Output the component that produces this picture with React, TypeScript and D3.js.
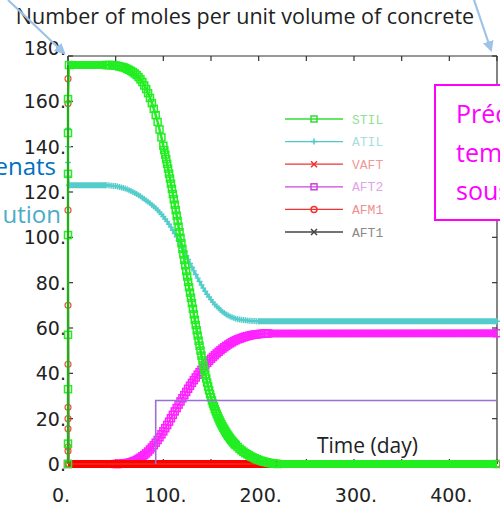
import React from "react";
import * as d3 from "d3";

// ---------- data ----------
const xTickValues = [0, 50, 100, 150, 200, 250, 300, 350, 400, 450];
const xLabelValues = [0, 100, 200, 300, 400];
const yTickValues = [0, 20, 40, 60, 80, 100, 120, 140, 160, 180];

const stil: [number, number][] = [
  [0, 0], [0, 9], [0, 33], [0, 57], [0, 101], [0, 128], [0, 146], [0, 161], [1, 176],
  [40, 176], [42, 176], [44, 176], [46, 176], [48, 175.9], [50, 175.8], [52, 175.6], [54, 175.4],
  [56, 175.2], [58, 175], [60, 174.7], [62, 174.3], [64, 173.9], [66, 173.4], [68, 172.9], [70, 172.3],
  [72, 171.6], [74, 170.7], [76, 169.7], [78, 168.5], [80, 167], [82, 165.4], [84, 163.6], [86, 161.5],
  [88, 159.2], [90, 156.7], [92, 153.9], [94, 150.9], [96, 147.6], [98, 144.1], [100, 140.4],
  [101, 138.5], [102, 136.5], [103, 134.5], [104, 132.4], [105, 130.3], [106, 128.1], [107, 125.9],
  [108, 123.7], [109, 121.4], [110, 119.1], [111, 116.8], [112, 114.4], [113, 112], [114, 109.6],
  [115, 107.2], [116, 104.7], [117, 102.3], [118, 99.8], [119, 97.4], [120, 94.9], [121, 92.5],
  [122, 90], [123, 87.6], [124, 85.1], [125, 82.7], [126, 80.3], [127, 78], [128, 75.6], [129, 73.3],
  [130, 71], [131, 68.5], [132, 66], [133, 63.6], [134, 61.3], [135, 59], [136, 56.7], [137, 54.4],
  [138, 52.2], [139, 50], [140, 47.8], [141, 45.7], [142, 43.6], [143, 41.6], [144, 39.6], [145, 37.7],
  [146, 35.9], [147, 34.2], [148, 32.5], [149, 30.9], [150, 29.4], [151, 28], [152, 26.7], [153, 25.5],
  [154, 24.3], [155, 23.2], [156, 22.1], [157, 21.1], [158, 20.1], [159, 19.2], [160, 18.3], [161, 17.5],
  [162, 16.7], [163, 15.9], [164, 15.2], [165, 14.5], [166, 13.8], [167, 13.1], [168, 12.5], [169, 11.9],
  [170, 11.3], [171, 10.7], [172, 10.2], [173, 9.7], [174, 9.2], [175, 8.7], [176, 8.3], [178, 7.5],
  [180, 6.7], [182, 6], [184, 5.4], [186, 4.8], [188, 4.3], [190, 3.8], [192, 3.3], [194, 2.9],
  [196, 2.5], [198, 2.1], [200, 1.8], [202, 1.5], [204, 1.2], [206, 1], [208, 0.8], [210, 0.6],
  [212, 0.4], [214, 0.3], [216, 0.2], [218, 0.1], [220, 0], [450, 0],
];

const atil: [number, number][] = [
  [0, 148], [0, 140], [0, 133], [0, 127], [1, 123],
  [40, 123], [42, 123], [44, 122.9], [46, 122.8], [48, 122.7], [50, 122.6], [52, 122.4], [54, 122.2],
  [56, 122], [58, 121.8], [60, 121.5], [62, 121.2], [64, 120.8], [66, 120.4], [68, 120], [70, 119.6],
  [72, 119.1], [74, 118.6], [76, 118.1], [78, 117.5], [80, 116.9], [82, 116.3], [84, 115.7], [86, 115],
  [88, 114.3], [90, 113.6], [92, 112.8], [94, 112], [96, 111.1], [98, 110.2], [100, 109.2], [102, 108.1],
  [104, 107], [106, 105.8], [108, 104.5], [110, 103.1], [112, 101.7], [114, 100.2], [116, 98.6],
  [118, 97], [120, 95.3], [122, 93.6], [124, 91.9], [126, 90.2], [128, 88.5], [130, 86.8], [132, 85.2],
  [134, 83.6], [136, 82], [138, 80.5], [140, 79], [142, 77.6], [144, 76.2], [146, 74.9], [148, 73.7],
  [150, 72.5], [152, 71.4], [154, 70.4], [156, 69.5], [158, 68.7], [160, 67.9], [162, 67.2], [164, 66.6],
  [166, 66], [168, 65.5], [170, 65.1], [172, 64.7], [174, 64.4], [176, 64.1], [178, 63.9], [180, 63.7],
  [182, 63.6], [184, 63.5], [186, 63.4], [188, 63.3], [190, 63.2], [192, 63.2], [194, 63.1], [196, 63.1],
  [198, 63], [200, 63], [450, 63],
];

const aft2: [number, number][] = [
  [0, 0], [50, 0], [52, 0], [54, 0.1], [56, 0.1], [58, 0.2], [60, 0.3], [62, 0.4], [64, 0.6], [66, 0.8],
  [68, 1.1], [70, 1.4], [72, 1.8], [74, 2.3], [76, 2.8], [78, 3.4], [80, 4], [82, 4.7], [84, 5.5],
  [86, 6.4], [88, 7.3], [90, 8.3], [92, 9.4], [94, 10.6], [96, 11.8], [98, 13.1], [100, 14.4],
  [102, 15.8], [104, 17.2], [106, 18.7], [108, 20.2], [110, 21.7], [112, 23.2], [114, 24.7], [116, 26.2],
  [118, 27.6], [120, 29], [122, 30.4], [124, 31.8], [126, 33.2], [128, 34.5], [130, 35.8], [132, 37],
  [134, 38.2], [136, 39.4], [138, 40.5], [140, 41.6], [142, 42.6], [144, 43.6], [146, 44.6], [148, 45.5],
  [150, 46.4], [152, 47.2], [154, 48], [156, 48.8], [158, 49.5], [160, 50.2], [162, 50.9], [164, 51.5],
  [166, 52.1], [168, 52.7], [170, 53.2], [172, 53.7], [174, 54.2], [176, 54.6], [178, 55], [180, 55.3],
  [182, 55.6], [184, 55.9], [186, 56.2], [188, 56.4], [190, 56.6], [192, 56.8], [194, 57], [196, 57.1],
  [198, 57.2], [200, 57.3], [202, 57.4], [204, 57.5], [206, 57.5], [208, 57.6], [210, 57.6], [450, 57.7],
];

const vaft: [number, number][] = [[0, 0], [450, 0]];
const afm1: [number, number][] = [
  [0, 0], [0, 5.7], [0, 7.5], [0, 15.5], [0, 20], [0, 25], [0, 44], [0, 70], [0, 112], [0, 159], [0, 170],
  [1, 0], [450, 0],
];
const aft1: [number, number][] = [[0, 0], [0, 176], [1, 0], [450, 0]];

// drawn step outline over the plot
const stepOutline: [number, number][] = [[92, 0], [92, 28], [450, 28]];

const legendNames = ["STIL", "ATIL", "VAFT", "AFT2", "AFM1", "AFT1"];
const legendColors = ["#33dd33", "#4fc8c8", "#ee3333", "#cc44dd", "#ee3333", "#444444"];
const legendTextColors = ["#96e096", "#a8dede", "#ee9a9a", "#e0a4e8", "#ee9090", "#8a8a8a"];
const legendMarkers = ["square", "plus", "x", "square", "circle", "x"];

// ---------- layout ----------
const W = 500;
const H = 505;
const x = d3.scaleLinear().domain([0, 450]).range([68, 497]);
const y = d3.scaleLinear().domain([0, 180]).range([464, 56]);

const lineGen = d3
  .line<[number, number]>()
  .x((d) => x(d[0]))
  .y((d) => y(d[1]));

function bandSegments(data: [number, number][]) {
  const segs: [number, number][][] = [];
  for (let i = 1; i < data.length; i++) {
    if (data[i][0] - data[i - 1][0] > 3) segs.push([data[i - 1], data[i]]);
  }
  return segs;
}

function Marker({ kind, cx, cy, color, size = 6, sw = 1.3 }: any) {
  const h = size / 2;
  if (kind === "square")
    return <rect x={cx - h} y={cy - h} width={size} height={size} fill="none" stroke={color} strokeWidth={sw} />;
  if (kind === "circle") return <circle cx={cx} cy={cy} r={h} fill="none" stroke={color} strokeWidth={sw} />;
  if (kind === "plus")
    return (
      <path d={`M${cx - h},${cy}H${cx + h}M${cx},${cy - h}V${cy + h}`} stroke={color} strokeWidth={sw} fill="none" />
    );
  return (
    <path
      d={`M${cx - h},${cy - h}L${cx + h},${cy + h}M${cx - h},${cy + h}L${cx + h},${cy - h}`}
      stroke={color}
      strokeWidth={sw}
      fill="none"
    />
  );
}

function Series({ data, color, marker, band, thin = 1.5, mSize = 6, mSw = 1.3, opacity = 1 }: any) {
  return (
    <g opacity={opacity}>
      {bandSegments(data).map((s, i) => (
        <path key={"b" + i} d={lineGen(s) || ""} stroke={color} strokeWidth={band} fill="none" />
      ))}
      <path d={lineGen(data) || ""} stroke={color} strokeWidth={thin} fill="none" />
      {marker &&
        data.map((d: [number, number], i: number) => (
          <Marker key={i} kind={marker} cx={x(d[0])} cy={y(d[1])} color={color} size={mSize} sw={mSw} />
        ))}
    </g>
  );
}

export default function App() {
  const tickFont = "'DejaVu Sans', Verdana, sans-serif";
  const calFont = "'Open Sans', 'Noto Sans', sans-serif";
  return (
    <svg
      width={W}
      height={H}
      style={{ position: "fixed", left: 0, top: 0, background: "#fff" }}
      viewBox={`0 0 ${W} ${H}`}
    >
      <defs>
        <marker id="arr" viewBox="0 0 10 10" refX="8" refY="5" markerWidth="5" markerHeight="5" orient="auto">
          <path d="M0,0L10,5L0,10z" fill="#9dc3e6" />
        </marker>
      </defs>
      <rect width={W} height={H} fill="#fff" />

      {/* title */}
      <text x={245} y={24} textAnchor="middle" fontFamily={calFont} fontSize={21.5} fill="#222">
        Number of moles per unit volume of concrete
      </text>

      {/* frame */}
      <g stroke="#333" strokeWidth={1.2} fill="none">
        <line x1={x(0)} x2={x(450)} y1={y(180)} y2={y(180)} />
        <line x1={x(0)} x2={x(450)} y1={y(0)} y2={y(0)} />
        <line x1={x(0)} x2={x(0)} y1={y(0)} y2={y(180)} />
        <line x1={x(450)} x2={x(450)} y1={y(0)} y2={y(180)} />
        {xTickValues.map((t) => (
          <g key={"xt" + t}>
            <line x1={x(t)} x2={x(t)} y1={y(0)} y2={y(0) - 5} />
            <line x1={x(t)} x2={x(t)} y1={y(180)} y2={y(180) + 5} />
          </g>
        ))}
        {yTickValues.map((t) => (
          <g key={"yt" + t}>
            <line x1={x(0)} x2={x(0) + 5} y1={y(t)} y2={y(t)} />
            <line x1={x(450)} x2={x(450) - 5} y1={y(t)} y2={y(t)} />
          </g>
        ))}
      </g>

      {/* tick labels */}
      {yTickValues.map((t) => (
        <text
          key={"yl" + t}
          x={66}
          y={y(t) + (t === 180 ? -8 : 0)}
          dy="0.36em"
          textAnchor="end"
          fontFamily={tickFont}
          fontSize={19}
          fill="#222"
        >
          {t + "."}
        </text>
      ))}
      {xLabelValues.map((t) => (
        <text
          key={"xl" + t}
          x={x(t) + (t === 0 ? -7 : 2)}
          y={502}
          textAnchor="middle"
          fontFamily={tickFont}
          fontSize={19}
          fill="#222"
        >
          {t + "."}
        </text>
      ))}

      {/* series */}
      <Series data={aft1} color="#333" band={2} thin={1} />
      <Series data={aft2} color="#ff22ff" marker="square" band={8} thin={2} mSize={7} mSw={1.5} />
      <Series data={vaft} color="#ff0000" band={8} thin={8} />
      <Series data={afm1} color="#e03a20" marker="circle" band={1} thin={1} mSize={6} mSw={1.2} opacity={0.85} />
      <Series data={atil} color="#55cccc" marker="plus" band={6} thin={2} mSize={6} mSw={1.4} />
      <Series data={stil} color="#22ee22" marker="square" band={8} thin={2.5} mSize={7} mSw={1.5} />
      <path d={lineGen([[0, 0], [0, 176]]) || ""} stroke="#3a8a28" strokeWidth={1.5} fill="none" />

      {/* drawn outline */}
      <path d={lineGen(stepOutline) || ""} stroke="#9a6fd6" strokeWidth={1.6} fill="none" />

      {/* legend */}
      {legendNames.map((n, i) => {
        const ly = 119 + i * 22.6;
        return (
          <g key={n}>
            <line x1={285} x2={343} y1={ly} y2={ly} stroke={legendColors[i]} strokeWidth={1.3} />
            <Marker kind={legendMarkers[i]} cx={314} cy={ly} color={legendColors[i]} size={6} sw={1.5} />
            <text
              x={352}
              y={ly}
              dy="0.36em"
              fontFamily="'Liberation Mono', 'DejaVu Sans Mono', monospace"
              fontSize={13}
              fill={legendTextColors[i]}
            >
              {n}
            </text>
          </g>
        );
      })}

      {/* axis caption */}
      <text x={317} y={453} fontFamily={calFont} fontSize={21} fill="#222">
        Time (day)
      </text>

      {/* slide overlays */}
      <line x1={8} y1={0} x2={64} y2={53} stroke="#9dc3e6" strokeWidth={2.2} markerEnd="url(#arr)" />
      <line x1={474} y1={0} x2={491} y2={50} stroke="#9dc3e6" strokeWidth={2.2} markerEnd="url(#arr)" />
      <text x={56} y={175} textAnchor="end" fontFamily={calFont} fontSize={24} fill="#0070c0">
        enats
      </text>
      <text x={61} y={223} textAnchor="end" fontFamily={calFont} fontSize={24} fill="#4bacc6">
        ution
      </text>
      <rect x={435} y={85} width={80} height={135} fill="#fff" stroke="#ff00ff" strokeWidth={2} />
      <g fontFamily={calFont} fontSize={25} fill="#ff00ff">
        <text x={456} y={123}>Précipitation</text>
        <text x={456} y={162}>temporaire</text>
        <text x={456} y={200}>sous forme</text>
      </g>
    </svg>
  );
}
